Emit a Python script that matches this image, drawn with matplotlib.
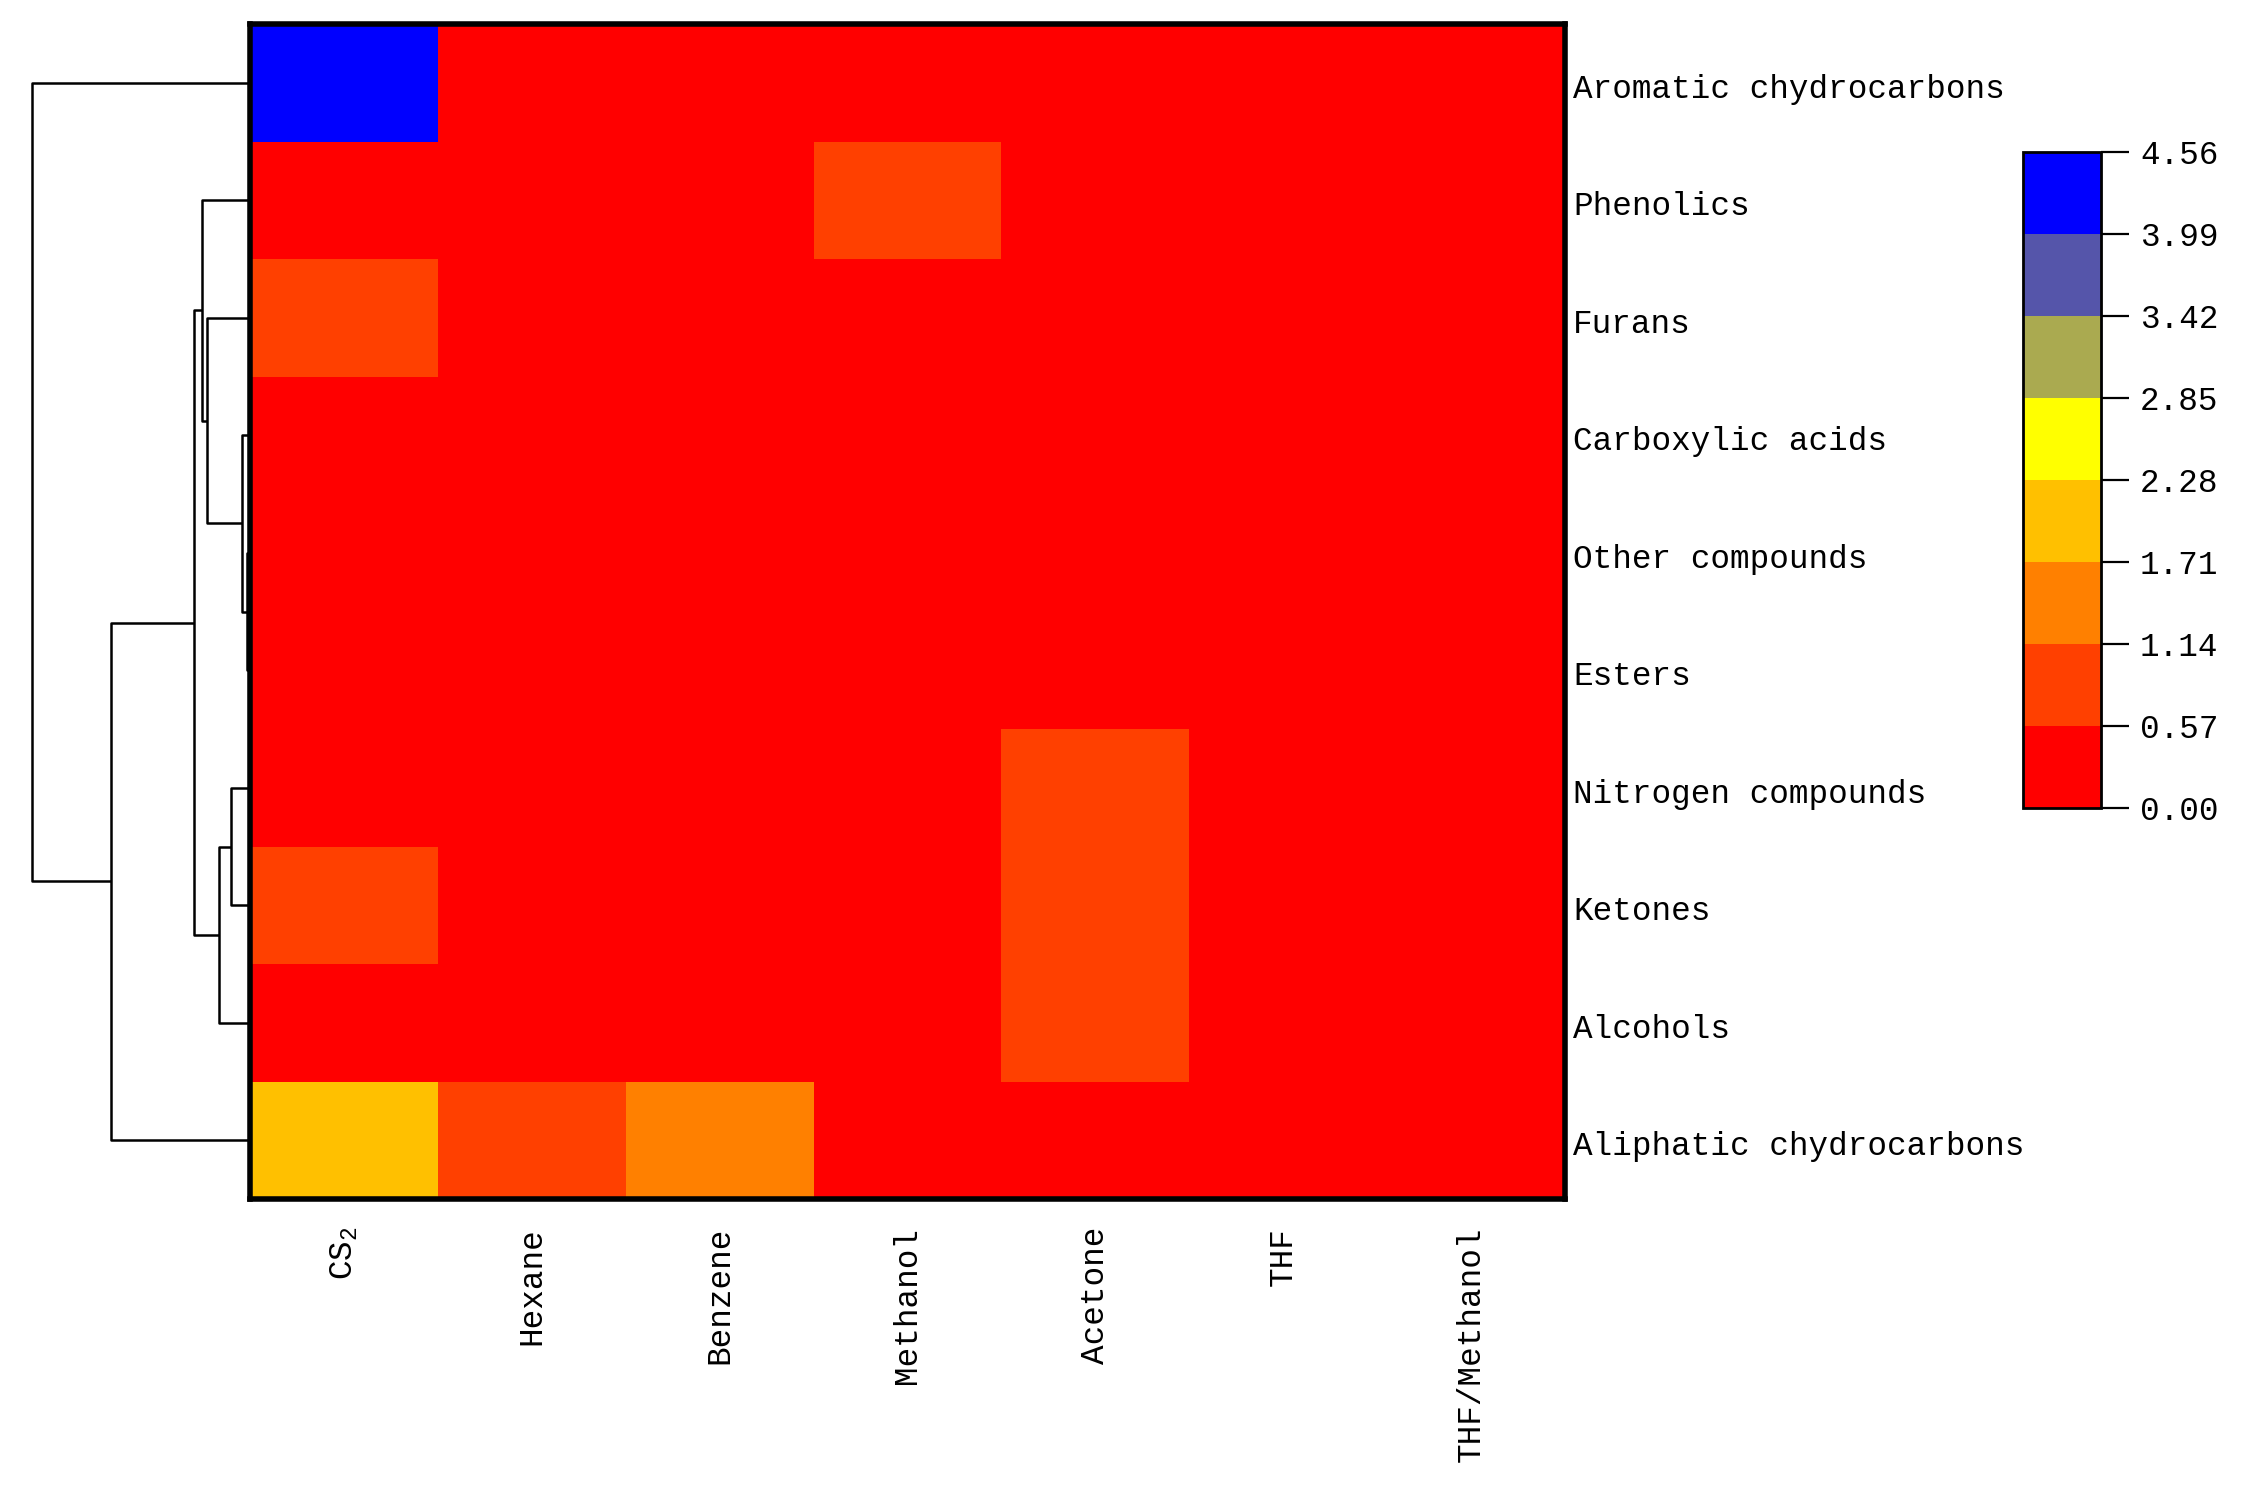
import numpy as np
import matplotlib
matplotlib.use("Agg")
import matplotlib.pyplot as plt
from matplotlib.colors import ListedColormap, BoundaryNorm
from matplotlib.transforms import ScaledTranslation

plt.rcParams['font.family'] = ['Liberation Mono', 'DejaVu Sans']
plt.rcParams['mathtext.default'] = 'regular'

rows = ["Aromatic chydrocarbons", "Phenolics", "Furans", "Carboxylic acids",
        "Other compounds", "Esters", "Nitrogen compounds", "Ketones",
        "Alcohols", "Aliphatic chydrocarbons"]
cols = ["CS$_2$", "Hexane", "Benzene", "Methanol", "Acetone", "THF", "THF/Methanol"]

values = np.array([
    [4.30, 0.20, 0.15, 0.10, 0.20, 0.10, 0.15],
    [0.30, 0.10, 0.20, 0.80, 0.30, 0.10, 0.10],
    [0.85, 0.10, 0.10, 0.20, 0.30, 0.10, 0.10],
    [0.30, 0.10, 0.10, 0.20, 0.30, 0.10, 0.10],
    [0.30, 0.10, 0.10, 0.20, 0.30, 0.10, 0.10],
    [0.30, 0.10, 0.10, 0.20, 0.35, 0.10, 0.10],
    [0.40, 0.10, 0.10, 0.20, 0.80, 0.10, 0.10],
    [0.80, 0.10, 0.10, 0.20, 0.90, 0.10, 0.10],
    [0.45, 0.10, 0.10, 0.20, 0.80, 0.10, 0.10],
    [2.00, 0.85, 1.40, 0.30, 0.30, 0.20, 0.20],
])

bounds = [0.00, 0.57, 1.14, 1.71, 2.28, 2.85, 3.42, 3.99, 4.56]
bin_colors = ["#FF0000", "#FF4000", "#FF8000", "#FFC000", "#FFFF00",
              "#AAAA50", "#5555AA", "#0000FF"]

# dendrogram merges: (child a, child b, distance); leaves 0..9 in row order
merges = [(4, 5, 3.3), (3, 10, 8), (2, 11, 43), (1, 12, 48), (6, 7, 19),
          (8, 14, 31), (13, 15, 56), (9, 16, 138), (0, 17, 217)]

W, H = 2243, 1505
fig = plt.figure(figsize=(W / 100, H / 100), dpi=100)

hx0, hx1, hy0, hy1 = 250, 1565, 24, 1199
ax = fig.add_axes([hx0 / W, 1 - hy1 / H, (hx1 - hx0) / W, (hy1 - hy0) / H])
cmap = ListedColormap(bin_colors)
norm = BoundaryNorm(bounds, cmap.N)
mesh = ax.pcolormesh(values, cmap=cmap, norm=norm)
ax.set_xlim(0, len(cols))
ax.set_ylim(len(rows), 0)
for s in ax.spines.values():
    s.set_linewidth(4)
ax.yaxis.tick_right()
ax.set_yticks(np.arange(len(rows)) + 0.5)
ax.set_yticklabels(rows, fontsize=23.5)
ax.set_xticks(np.arange(len(cols)) + 0.5)
ax.set_xticklabels(cols, rotation=90, fontsize=23.5, va='top', ha='center')
ax.tick_params(axis='both', length=0)
ax.tick_params(axis='y', pad=6)
ax.tick_params(axis='x', pad=20)
shift = ScaledTranslation(0, -0.03, fig.dpi_scale_trans)
for t in ax.get_yticklabels():
    t.set_transform(t.get_transform() + shift)

# dendrogram
dx0 = 31
dax = fig.add_axes([dx0 / W, 1 - hy1 / H, (hx0 - dx0) / W, (hy1 - hy0) / H])
dax.set_xlim(217.5, 0)
dax.set_ylim(len(rows), 0)
dax.axis('off')
pos = {i: (i + 0.5, 0.0) for i in range(len(rows))}
for k, (a, b, d) in enumerate(merges):
    ya, da = pos[a]
    yb, db = pos[b]
    dax.plot([da, d, d, db], [ya, ya, yb, yb], color='black', lw=1.8,
             clip_on=False, solid_capstyle='butt')
    pos[len(rows) + k] = ((ya + yb) / 2, d)

# colorbar
cx0, cx1, cy0, cy1 = 2023, 2101, 152, 808
cax = fig.add_axes([cx0 / W, 1 - cy1 / H, (cx1 - cx0) / W, (cy1 - cy0) / H])
cb = fig.colorbar(mesh, cax=cax, ticks=bounds)
cb.set_ticklabels([f"{b:.2f}" for b in bounds])
cb.outline.set_linewidth(2)
cax.tick_params(length=20, width=1.6, labelsize=23.5, pad=8)

fig.savefig("out.png", dpi=100, facecolor='white')
